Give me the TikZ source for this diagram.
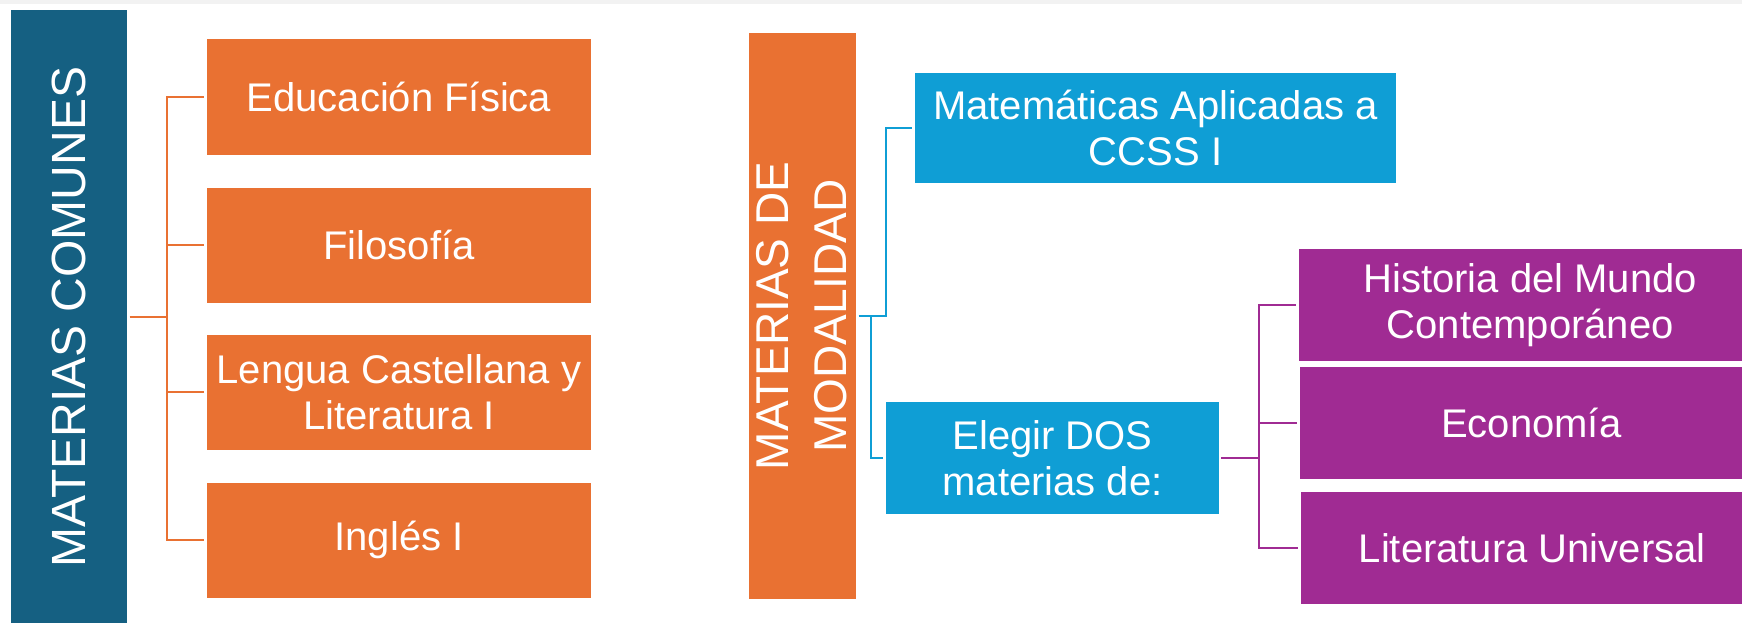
\documentclass[tikz,border=0pt]{standalone}
\usepackage{fontspec}
\setmainfont{Liberation Sans}
\definecolor{azuloscuro}{HTML}{156082}
\definecolor{naranja}{HTML}{E97132}
\definecolor{azulclaro}{HTML}{0F9ED5}
\definecolor{morado}{HTML}{A02B93}
\begin{document}
\begin{tikzpicture}[x=1pt,y=-1pt,
  caja/.style={shape=rectangle,inner sep=0pt,text=white,align=center,font=\fontsize{40}{46}\selectfont},
  rama/.style={line width=2.2pt}]

  \useasboundingbox (0,0) rectangle (1742,623);
  \fill [gray!10] (0,0) rectangle (1742,4);

  \node (comunes) at (69,317) [caja,fill=azuloscuro,rotate=90,minimum width=614pt,minimum height=116pt,font=\fontsize{48}{56}\selectfont] {MATERIAS COMUNES};

  \node (edfis) at (399,97) [caja,fill=naranja,minimum width=384pt,minimum height=115pt] {Educación Física};
  \node (filo) at (399,245) [caja,fill=naranja,minimum width=384pt,minimum height=115pt] {Filosofía};
  \node (lengua) at (399,392) [caja,fill=naranja,minimum width=384pt,minimum height=115pt] {Lengua Castellana y\\Literatura I};
  \node (ingles) at (399,540) [caja,fill=naranja,minimum width=384pt,minimum height=115pt] {Inglés I};

  \node (modalidad) at (802,316) [caja,fill=naranja,rotate=90,minimum width=566pt,minimum height=107pt,font=\fontsize{46}{58}\selectfont] {MATERIAS DE\\MODALIDAD};

  \node (mates) at (1155.5,128) [caja,fill=azulclaro,minimum width=481pt,minimum height=110pt] {Matemáticas Aplicadas a\\CCSS I};
  \node (elegir) at (1052.5,458) [caja,fill=azulclaro,minimum width=333pt,minimum height=112pt] {Elegir DOS\\materias de:};

  \node (historia) at (1299,305) [caja,fill=morado,anchor=west,minimum width=462pt,minimum height=112pt] {Historia del Mundo\\Contemporáneo};
  \node (economia) at (1300,423) [caja,fill=morado,anchor=west,minimum width=462pt,minimum height=112pt] {Economía};
  \node (literatura) at (1301,548) [caja,fill=morado,anchor=west,minimum width=462pt,minimum height=112pt] {Literatura Universal};

  \coordinate (oc) at (167,317);
  \draw [rama,naranja] ([xshift=2.5pt]comunes.south) -- (oc);
  \draw [rama,naranja] (oc) |- ([xshift=-3pt]edfis.west);
  \draw [rama,naranja] (oc) |- ([xshift=-3pt]filo.west);
  \draw [rama,naranja] (oc) |- ([xshift=-3pt]lengua.west);
  \draw [rama,naranja] (oc) |- ([xshift=-3pt]ingles.west);

  \coordinate (bc) at (886,316);
  \coordinate (bd) at (871,316);
  \draw [rama,azulclaro] ([xshift=3pt]modalidad.south) -- (bc) |- ([xshift=-3pt]mates.west);
  \draw [rama,azulclaro] (bd) |- ([xshift=-3pt]elegir.west);

  \coordinate (pc) at (1259,458);
  \draw [rama,morado] ([xshift=2pt]elegir.east) -- (pc);
  \draw [rama,morado] (pc) |- ([xshift=-3pt]historia.west);
  \draw [rama,morado] (pc) |- ([xshift=-3pt]economia.west);
  \draw [rama,morado] (pc) |- ([xshift=-3pt]literatura.west);

\end{tikzpicture}
\end{document}
